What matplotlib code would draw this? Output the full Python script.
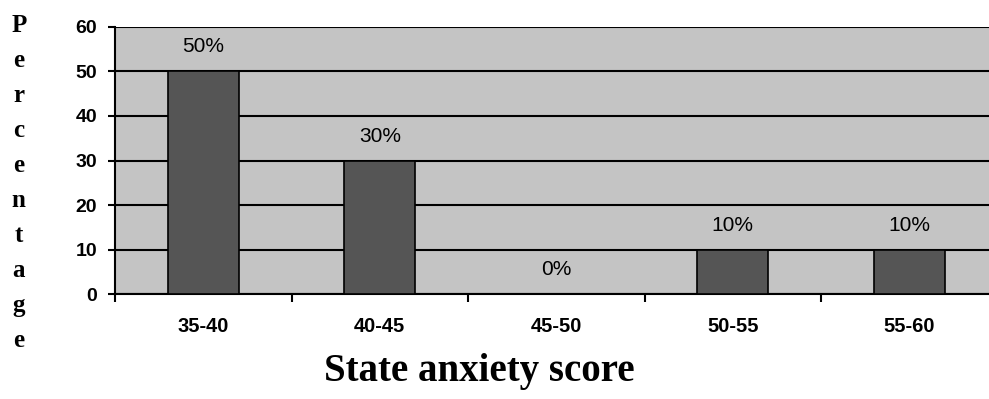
import numpy as np
import matplotlib.pyplot as plt

# score bands and share of participants
categories = ['35-40', '40-45', '45-50', '50-55', '55-60']
percentages = [50, 30, 0, 10, 10]
value_labels = ['50%', '30%', '0%', '10%', '10%']

fig = plt.figure(figsize=(9.89, 3.99), dpi=100)
ax = fig.add_axes([0.1163, 0.262, 0.8923, 0.671])

x = np.arange(len(categories))
ax.set_facecolor('#c4c4c4')
ax.bar(x, percentages, width=0.4, color='#555555', edgecolor='black', linewidth=1.2, zorder=3)

for xi, v, lab in zip(x, percentages, value_labels):
    ax.text(xi, v + 5.5, lab, ha='center', va='center', fontsize=15,
            family='Liberation Sans', zorder=4)

ax.set_xlim(-0.5, 4.5)
ax.set_ylim(0, 60)
ax.set_yticks(range(0, 61, 10))
ax.yaxis.grid(True, color='black', linewidth=1.5, zorder=1)
ax.set_axisbelow(True)

# category names centred, tick marks on the band boundaries
ax.set_xticks(x)
ax.set_xticklabels(categories, fontsize=14.5, fontweight='bold', family='Liberation Sans')
ax.tick_params(axis='x', length=0, pad=16)
ax.set_xticks(np.arange(-0.5, 4.6, 1), minor=True)
ax.tick_params(axis='x', which='minor', length=6, width=1.5, direction='out')
ax.tick_params(axis='y', length=5, width=1.5, direction='out', pad=8)
for lab in ax.get_yticklabels():
    lab.set_fontweight('bold')
    lab.set_family('Liberation Sans')
    lab.set_fontsize(14)

for side in ['top', 'right']:
    ax.spines[side].set_visible(False)
ax.spines['left'].set_linewidth(1.5)
ax.spines['bottom'].set_linewidth(1.5)

fig.text(0.485, 0.068, 'State anxiety score', ha='center', va='center',
         fontsize=28, fontweight='bold', family='Liberation Serif')

ylabel = 'Percentage'
for i, ch in enumerate(ylabel):
    fig.text(0.019, 0.935 - i * 0.0877, ch, ha='center', va='center',
             fontsize=18, fontweight='bold', family='Liberation Serif')

fig.savefig('out.png', dpi=100)
